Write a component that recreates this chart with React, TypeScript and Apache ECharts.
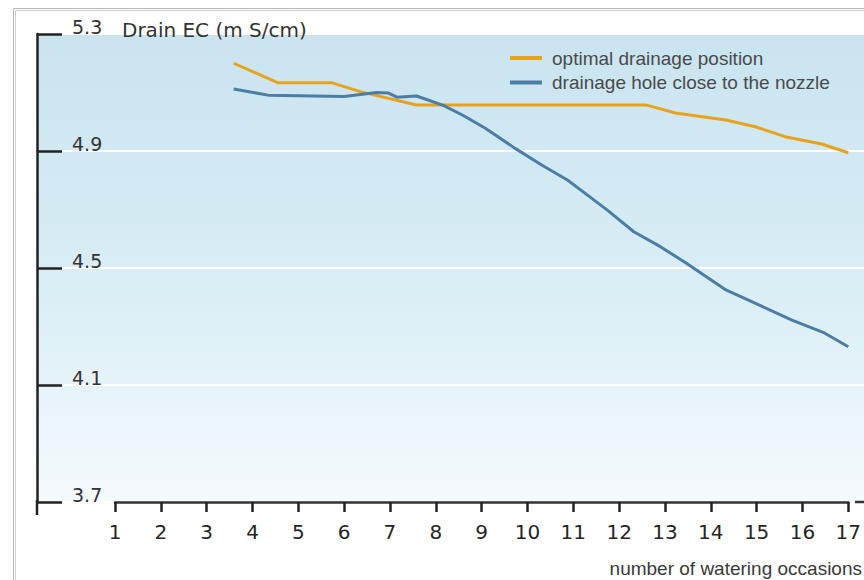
import React, { useEffect, useRef } from "react";
import * as echarts from "echarts";

// ---- data ----
const seriesNames = ["optimal drainage position", "drainage hole close to the nozzle"];

const optimalX = [3.59, 4.56, 5.74, 6.35, 7.58, 12.6, 13.23, 14.33, 14.97, 15.62, 16.42, 17.0];
const optimalY = [5.2, 5.133, 5.133, 5.103, 5.057, 5.057, 5.03, 5.006, 4.983, 4.949, 4.924, 4.894];

const nozzleX = [3.59, 4.34, 6.0, 6.71, 6.97, 7.15, 7.58, 8.15, 8.58, 9.08, 9.73, 10.31, 10.88, 11.31, 11.75, 12.32, 12.9, 13.46, 14.33, 15.06, 15.77, 16.48, 17.0];
const nozzleY = [5.112, 5.091, 5.086, 5.1, 5.098, 5.084, 5.088, 5.057, 5.023, 4.978, 4.909, 4.852, 4.8, 4.749, 4.697, 4.624, 4.573, 4.517, 4.425, 4.373, 4.322, 4.278, 4.231];

const xMin = 1;
const xMax = 17;
const xStep = 1;
const yMin = 3.7;
const yMax = 5.3;
const yStep = 0.4;

const yAxisName = "Drain EC (m S/cm)";
const xAxisName = "number of watering occasions";

const colors = ["#e9a21c", "#4a7ea6"];

const pairs = (xs: number[], ys: number[]) => xs.map((x, i) => [x, ys[i]]);

export default function App() {
  const ref = useRef<HTMLDivElement>(null);

  useEffect(() => {
    if (!ref.current) return;
    const chart = echarts.init(ref.current, undefined, { renderer: "svg" });
    const tickFont = "DejaVu Sans";
    const textFont = "Liberation Sans";
    const top = 34;
    const bottom = 78;
    chart.setOption({
      animation: false,
      backgroundColor: "#ffffff",
      graphic: [
        {
          type: "rect",
          z: -100,
          silent: true,
          shape: { x: 37, y: 34, width: 827, height: 468 },
          style: {
            fill: new echarts.graphic.LinearGradient(0, 0, 0, 1, [
              { offset: 0, color: "#c9e4f0" },
              { offset: 0.55, color: "#daeef6" },
              { offset: 1, color: "#f5fafd" },
            ]),
          },
        },
        {
          type: "rect",
          z: 100,
          silent: true,
          shape: { x: 13.5, y: 8.5, width: 900, height: 600 },
          style: { fill: "none", stroke: "#b9b9b9", lineWidth: 1 },
        },
        {
          type: "rect",
          z: 100,
          silent: true,
          shape: { x: 15.5, y: 10.5, width: 900, height: 600 },
          style: { fill: "none", stroke: "#cfcfcf", lineWidth: 1 },
        },
        {
          type: "line",
          z: 100,
          silent: true,
          shape: { x1: 37, y1: 500, x2: 37, y2: 515 },
          style: { stroke: "#222", lineWidth: 2.5 },
        },
        {
          type: "line",
          z: 100,
          silent: true,
          shape: { x1: 855, y1: 502, x2: 864, y2: 502 },
          style: { stroke: "#333", lineWidth: 2.5 },
        },
        {
          type: "text",
          z: 100,
          silent: true,
          x: 862,
          y: 568,
          style: {
            text: xAxisName,
            fontFamily: textFont,
            fontSize: 19,
            fill: "#3a3a3a",
            align: "right",
            verticalAlign: "middle",
          },
        },
      ],
      legend: {
        show: true,
        orient: "vertical",
        left: 510,
        top: 48,
        padding: 0,
        itemWidth: 32,
        itemHeight: 4,
        itemGap: 4.5,
        icon: "rect",
        data: seriesNames,
        textStyle: {
          fontFamily: textFont,
          fontSize: 19,
          color: "#4a4a4a",
          lineHeight: 20,
          padding: [0, 0, 0, 5],
        },
      },
      grid: [
        { left: 37, right: 0, top, bottom },
        { left: 62, right: 0, top, bottom },
        { left: 115, right: 7, top, bottom },
      ],
      xAxis: [
        { type: "value", gridIndex: 0, min: 0, max: 1, show: false },
        { type: "value", gridIndex: 1, min: 0, max: 1, show: false },
        {
          type: "value",
          gridIndex: 2,
          min: xMin,
          max: xMax,
          interval: xStep,
          axisLine: { show: true, lineStyle: { color: "#333", width: 2.5 } },
          axisTick: { show: true, length: 10, lineStyle: { color: "#222", width: 2.5 } },
          splitLine: { show: false },
          axisLabel: {
            margin: 20,
            fontFamily: tickFont,
            fontSize: 20,
            color: "#262626",
          },
        },
      ],
      yAxis: [
        {
          type: "value",
          gridIndex: 0,
          min: yMin,
          max: yMax,
          interval: yStep,
          axisLine: { show: true, lineStyle: { color: "#222", width: 2.5 } },
          axisTick: { show: true, inside: true, length: 25, lineStyle: { color: "#222", width: 2.5 } },
          splitLine: { show: false },
          axisLabel: {
            inside: true,
            margin: 35,
            fontFamily: tickFont,
            fontSize: 19,
            color: "#333",
            verticalAlign: "bottom",
            lineHeight: 14,
            formatter: (v: number) => v.toFixed(1),
          },
          name: yAxisName,
          nameLocation: "end",
          nameGap: -3,
          nameMoveOverlap: false,
          nameTextStyle: {
            fontFamily: tickFont,
            fontSize: 20,
            color: "#333",
            align: "left",
            verticalAlign: "bottom",
            lineHeight: 14,
            padding: [0, 0, 0, 85],
          },
        },
        {
          type: "value",
          gridIndex: 1,
          min: yMin,
          max: yMax,
          interval: yStep,
          axisLine: { show: false },
          axisTick: { show: false },
          axisLabel: { show: false },
          splitLine: { show: true, lineStyle: { color: "#ffffff", width: 2 } },
        },
        { type: "value", gridIndex: 2, min: yMin, max: yMax, interval: yStep, show: false },
      ],
      series: [
        {
          name: seriesNames[0],
          type: "line",
          xAxisIndex: 2,
          yAxisIndex: 2,
          data: pairs(optimalX, optimalY),
          showSymbol: false,
          symbol: "none",
          itemStyle: { color: colors[0] },
          lineStyle: { color: colors[0], width: 3 },
          z: 3,
        },
        {
          name: seriesNames[1],
          type: "line",
          xAxisIndex: 2,
          yAxisIndex: 2,
          data: pairs(nozzleX, nozzleY),
          showSymbol: false,
          symbol: "none",
          itemStyle: { color: colors[1] },
          lineStyle: { color: colors[1], width: 3 },
          z: 4,
        },
      ],
    });
    return () => chart.dispose();
  }, []);

  return (
    <div
      ref={ref}
      style={{ position: "absolute", left: 0, top: 0, width: 864, height: 580 }}
    />
  );
}
